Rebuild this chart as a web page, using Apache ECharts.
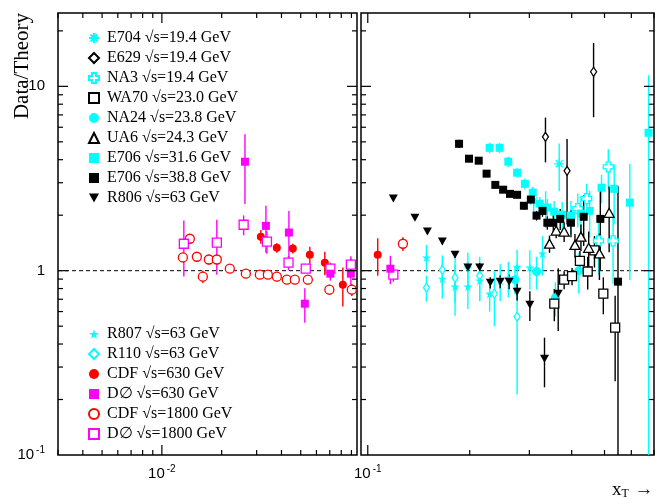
<!DOCTYPE html>
<html>
<head>
<meta charset="utf-8">
<script src="https://cdn.jsdelivr.net/npm/echarts@6/dist/echarts.min.js"></script>
<style>
  html, body { margin: 0; padding: 0; background: #fff; }
  #chart { width: 657px; height: 499px; }
</style>
</head>
<body>
<div id="chart"></div>
<script>
// each point: [x_T, Data/Theory, error]
const e704 = [[0.309, 2.39, 0.4], [0.335, 2.20, 0.5], [0.3675, 3.80, 1.1]];
const e629 = [[0.3347, 5.32, 1.45], [0.3876, 3.48, 1.7], [0.4642, 12.0, 5.2]];
const na3 = [[0.417, 2.17, 0.45], [0.443, 2.46, 0.5], [0.48, 1.45, 0.5], [0.513, 3.66, 0.9], [0.53, 1.45, 0.6]];
const wa70 = [[0.3554, 0.662, 0.13], [0.38, 0.894, 0.1], [0.401, 0.934, 0.1], [0.423, 1.13, 0.15],
  [0.446, 0.99, 0.2], [0.467, 1.29, 0.25], [0.496, 0.75, 0.17], [0.5375, 0.491, 0.24]];
const na24 = [[0.272, 0.894, 0.15], [0.315, 0.99, 0.2], [0.358, 0.714, 0.15], [0.42, 1.0, 0.25]];
const ua6 = [[0.344, 1.40, 0.15], [0.360, 1.65, 0.15], [0.380, 1.63, 0.2], [0.409, 1.38, 0.2],
  [0.426, 1.53, 0.25], [0.449, 1.33, 0.3], [0.483, 1.24, 0.35], [0.516, 2.06, 0.8]];
const e706low = [[0.229, 4.64, 0.3], [0.245, 4.64, 0.3], [0.26, 3.90, 0.25], [0.276, 3.40, 0.2],
  [0.291, 2.96, 0.2], [0.307, 2.65, 0.2], [0.322, 2.31, 0.2], [0.339, 2.20, 0.25], [0.355, 2.09, 0.3],
  [0.375, 2.01, 0.35], [0.398, 1.99, 0.4], [0.426, 2.04, 0.5], [0.452, 2.11, 0.6], [0.49, 2.82, 0.5],
  [0.534, 2.78, 1.0], [0.594, 2.34, 1.45], [0.6745, 5.6, 5.9]];
const e706high = [[0.186, 4.88, 0.25], [0.199, 4.05, 0.15], [0.2126, 3.95, 0.15], [0.2243, 3.36, 0.12],
  [0.238, 2.92, 0.12], [0.251, 2.75, 0.1], [0.263, 2.61, 0.1], [0.276, 2.58, 0.1], [0.289, 2.25, 0.1],
  [0.303, 2.43, 0.12], [0.315, 1.99, 0.12], [0.328, 2.11, 0.15], [0.339, 1.82, 0.15], [0.353, 1.82, 0.2],
  [0.370, 1.91, 0.25], [0.398, 1.82, 0.3], [0.434, 1.96, 0.6], [0.486, 1.91, 0.9], [0.548, 0.872, 2.0]];
const r806 = [[0.119, 2.46, 0.05], [0.1378, 1.94, 0.05], [0.150, 1.63, 0.05], [0.166, 1.44, 0.05],
  [0.181, 1.22, 0.05], [0.1975, 1.04, 0.05], [0.214, 1.04, 0.06], [0.230, 0.861, 0.06], [0.246, 0.872, 0.07],
  [0.2615, 0.872, 0.08], [0.276, 0.769, 0.08], [0.301, 0.654, 0.12], [0.3325, 0.333, 0.1], [0.365, 0.75, 0.28]];
const r807 = [[0.149, 1.18, 0.2], [0.166, 0.905, 0.2], [0.181, 0.819, 0.25], [0.1975, 0.819, 0.2],
  [0.214, 0.883, 0.2], [0.229, 0.75, 0.15], [0.246, 0.883, 0.2], [0.26, 0.916, 0.2], [0.276, 1.05, 0.25],
  [0.301, 1.04, 0.25], [0.328, 1.24, 0.3]];
const r110 = [[0.149, 0.809, 0.13], [0.166, 1.01, 0.2], [0.181, 0.916, 0.25], [0.1975, 1.05, 0.2],
  [0.214, 0.94, 0.25], [0.2365, 0.75, 0.25], [0.276, 0.563, 0.35]];
const cdf630 = [[0.03149, 1.53, 0.13], [0.03791, 1.33, 0.08], [0.04563, 1.32, 0.08], [0.05557, 1.22, 0.13],
  [0.06611, 1.105, 0.16], [0.08146, 0.839, 0.2], [0.107, 1.22, 0.28]];
const d0630 = [[0.0262, 3.9, 1.6], [0.0334, 1.75, 0.5], [0.0436, 1.61, 0.5], [0.05244, 0.662, 0.14],
  [0.0705, 0.963, 0.08], [0.0894, 0.963, 0.2], [0.1166, 1.025, 0.18]];
const cdf1800 = [[0.01276, 1.18, 0.07], [0.01383, 1.49, 0.08], [0.0150, 1.19, 0.07], [0.01608, 0.928, 0.07],
  [0.01724, 1.15, 0.07], [0.01891, 1.15, 0.07], [0.02198, 1.025, 0.05], [0.02647, 0.963, 0.05],
  [0.03112, 0.951, 0.04], [0.03416, 0.951, 0.04], [0.03791, 0.928, 0.04], [0.04257, 0.894, 0.04],
  [0.0467, 0.894, 0.04], [0.0543, 0.894, 0.05], [0.0697, 0.789, 0.05], [0.0904, 0.789, 0.06], [0.127, 1.40, 0.12]];
const d01800 = [[0.0129, 1.40, 0.47], [0.01891, 1.42, 0.47], [0.0258, 1.775, 0.22], [0.0338, 1.436, 0.2],
  [0.0434, 1.105, 0.1], [0.053, 1.025, 0.05], [0.0705, 1.025, 0.08], [0.0894, 1.078, 0.12], [0.119, 0.951, 0.08]];

const yTicks = [0.2, 0.3, 0.4, 0.5, 0.6, 0.7, 0.8, 0.9, 1, 2, 3, 4, 5, 6, 7, 8, 9, 10, 20];
const xTicksLow = [0.003, 0.004, 0.005, 0.006, 0.007, 0.008, 0.009, 0.01, 0.02, 0.03, 0.04, 0.05, 0.06, 0.07, 0.08, 0.09];
const xTicksHigh = [0.1, 0.2, 0.3, 0.4, 0.5, 0.6, 0.7];

const legendTop = ['E704 √s=19.4 GeV', 'E629 √s=19.4 GeV', 'NA3 √s=19.4 GeV', 'WA70 √s=23.0 GeV',
  'NA24 √s=23.8 GeV', 'UA6 √s=24.3 GeV', 'E706 √s=31.6 GeV', 'E706 √s=38.8 GeV', 'R806 √s=63 GeV'];
const legendBottom = ['R807 √s=63 GeV', 'R110 √s=63 GeV', 'CDF √s=630 GeV', 'D∅ √s=630 GeV',
  'CDF √s=1800 GeV', 'D∅ √s=1800 GeV'];

const CYAN = '#00ffff', BLACK = '#000000', RED = '#ff0000', MAGENTA = '#ff00ff';
const ASTERISK = 'path://M5,0L5,10M0,5L10,5M1.5,1.5L8.5,8.5M1.5,8.5L8.5,1.5';
const CROSS = 'path://M3,0L7,0L7,3L10,3L10,7L7,7L7,10L3,10L3,7L0,7L0,3L3,3Z';
const STAR = 'path://M50,0L61,35L98,35L68,57L79,91L50,70L21,91L32,57L2,35L39,35Z';
const DOWN = 'path://M0,0L10,0L5,9Z';
const SPLIT_X = 0.096; // boundary between the two panels

// drawing order: cyan first, black last
const sets = [
  { name: legendTop[0], data: e704, symbol: ASTERISK, size: 10, color: CYAN, open: false, line: true },
  { name: legendTop[2], data: na3, symbol: CROSS, size: 10, color: CYAN, open: true },
  { name: legendTop[4], data: na24, symbol: 'circle', size: 9, color: CYAN },
  { name: legendTop[6], data: e706low, symbol: 'rect', size: 8, color: CYAN },
  { name: legendBottom[0], data: r807, symbol: STAR, size: 9, color: CYAN },
  { name: legendBottom[1], data: r110, symbol: 'diamond', size: [6, 9], color: CYAN, open: true },
  { name: legendBottom[4], data: cdf1800, symbol: 'circle', size: 9, color: RED, open: true },
  { name: legendBottom[2], data: cdf630, symbol: 'circle', size: 8, color: RED },
  { name: legendBottom[5], data: d01800, symbol: 'rect', size: 9, color: MAGENTA, open: true },
  { name: legendBottom[3], data: d0630, symbol: 'rect', size: 8, color: MAGENTA },
  { name: legendTop[1], data: e629, symbol: 'diamond', size: [6, 9], color: BLACK, open: true },
  { name: legendTop[3], data: wa70, symbol: 'rect', size: 9, color: BLACK, open: true },
  { name: legendTop[5], data: ua6, symbol: 'triangle', size: [10, 9], color: BLACK, open: true },
  { name: legendTop[7], data: e706high, symbol: 'rect', size: 8, color: BLACK },
  { name: legendTop[8], data: r806, symbol: DOWN, size: [9, 8], color: BLACK }
];

function isDecade(v) {
  const l = Math.log10(v);
  return Math.abs(l - Math.round(l)) < 1e-6;
}

function powLabel(v) {
  if (!isDecade(v)) return '';
  const e = Math.round(Math.log10(v));
  if (e === 0) return '1';
  if (e === 1) return '10';
  return '10{sup|' + e + '}';
}

const labelRich = { sup: { fontSize: 10, fontFamily: 'Liberation Sans', color: '#000', padding: [0, 0, 9, 2] } };

function errBar(color) {
  return function (params, api) {
    const cs = params.coordSys;
    const x = api.value(0), y = api.value(1), e = api.value(2);
    const top = api.coord([x, y + e]);
    const lo = y - e;
    const bot = lo > 0 ? api.coord([x, lo])[1] : cs.y + cs.height;
    return {
      type: 'line',
      shape: { x1: top[0], y1: Math.max(top[1], cs.y), x2: top[0], y2: Math.min(bot, cs.y + cs.height) },
      style: { stroke: color, lineWidth: 1.4 }
    };
  };
}

function xTick(params, api) {
  const cs = params.coordSys;
  const v = api.value(0);
  const px = api.coord([v, 1])[0];
  const len = isDecade(v) ? 10 : 5;
  const st = { stroke: '#000', lineWidth: 1.2 };
  return {
    type: 'group', children: [
      { type: 'line', shape: { x1: px, y1: cs.y + cs.height, x2: px, y2: cs.y + cs.height - len }, style: st },
      { type: 'line', shape: { x1: px, y1: cs.y, x2: px, y2: cs.y + len }, style: st }
    ]
  };
}

function yTick(params, api) {
  const cs = params.coordSys;
  const py = api.coord([api.value(0), api.value(1)])[1];
  const len = isDecade(api.value(1)) ? 10 : 5;
  const st = { stroke: '#000', lineWidth: 1.2 };
  return {
    type: 'group', children: [
      { type: 'line', shape: { x1: cs.x, y1: py, x2: cs.x + len, y2: py }, style: st },
      { type: 'line', shape: { x1: cs.x + cs.width, y1: py, x2: cs.x + cs.width - len, y2: py }, style: st }
    ]
  };
}

function unityLine(params, api) {
  const cs = params.coordSys;
  const py = api.coord([api.value(0), 1])[1];
  return {
    type: 'line',
    shape: { x1: cs.x, y1: py, x2: cs.x + cs.width, y2: py },
    style: { stroke: '#000', lineWidth: 1, lineDash: [4, 3] }
  };
}

const series = [];
[[xTicksLow, 0.01], [xTicksHigh, 0.2]].forEach(function (g, gi) {
  series.push({ type: 'custom', xAxisIndex: gi, yAxisIndex: gi, z: 1, silent: true, clip: false,
    renderItem: unityLine, data: [[g[1], 1]] });
  series.push({ type: 'custom', xAxisIndex: gi, yAxisIndex: gi, z: 5, silent: true, clip: false,
    renderItem: xTick, data: g[0].map(v => [v, 1]) });
  series.push({ type: 'custom', xAxisIndex: gi, yAxisIndex: gi, z: 5, silent: true, clip: false,
    renderItem: yTick, data: yTicks.map(v => [g[1], v]) });
});

sets.forEach(function (s) {
  [0, 1].forEach(function (gi) {
    const pts = s.data.filter(p => (gi === 0) === (p[0] < SPLIT_X));
    if (!pts.length) return;
    series.push({ type: 'custom', xAxisIndex: gi, yAxisIndex: gi, z: 2, silent: true,
      renderItem: errBar(s.color), data: pts });
  });
});

sets.forEach(function (s) {
  [0, 1].forEach(function (gi) {
    const pts = s.data.filter(p => (gi === 0) === (p[0] < SPLIT_X));
    if (!pts.length) return;
    series.push({
      type: 'scatter', name: s.name, xAxisIndex: gi, yAxisIndex: gi, z: 3,
      symbol: s.symbol, symbolSize: s.size,
      itemStyle: {
        color: s.open ? '#ffffff' : s.color,
        borderColor: s.color,
        borderWidth: s.open || s.line ? 1.3 : 0,
        opacity: 1
      },
      emphasis: { disabled: true },
      data: pts.map(p => [p[0], p[1]])
    });
  });
});

const legendBase = {
  orient: 'vertical', left: 83, itemGap: 4, itemWidth: 10, itemHeight: 10,
  selectedMode: false,
  textStyle: { fontFamily: 'Liberation Serif', fontSize: 16, color: '#000', padding: [0, 0, 0, 3] }
};

const option = {
  animation: false,
  backgroundColor: '#ffffff',
  grid: [
    { left: 58, top: 13, width: 299, height: 442, show: true, borderColor: '#000', borderWidth: 1.5 },
    { left: 361, top: 13, width: 298, height: 442, show: true, borderColor: '#000', borderWidth: 1.5 }
  ],
  xAxis: [
    { type: 'log', gridIndex: 0, min: 0.003, max: 0.096,
      axisLine: { show: false }, axisTick: { show: false }, splitLine: { show: false },
      axisLabel: { formatter: powLabel, margin: 9, color: '#000', fontSize: 15, fontFamily: 'Liberation Sans', rich: labelRich } },
    { type: 'log', gridIndex: 1, min: 0.0955, max: 0.7,
      axisLine: { show: false }, axisTick: { show: false }, splitLine: { show: false },
      axisLabel: { formatter: powLabel, margin: 9, color: '#000', fontSize: 15, fontFamily: 'Liberation Sans', rich: labelRich } }
  ],
  yAxis: [
    { type: 'log', gridIndex: 0, min: 0.1, max: 25,
      axisLine: { show: false }, axisTick: { show: false }, splitLine: { show: false },
      axisLabel: { formatter: powLabel, margin: 13, color: '#000', fontSize: 15, fontFamily: 'Liberation Sans', rich: labelRich } },
    { type: 'log', gridIndex: 1, min: 0.1, max: 25,
      axisLine: { show: false }, axisTick: { show: false }, splitLine: { show: false },
      axisLabel: { show: false } }
  ],
  legend: [
    Object.assign({}, legendBase, { top: 25, data: legendTop }),
    Object.assign({}, legendBase, { top: 321, data: legendBottom })
  ],
  graphic: [
    { type: 'text', x: 22, y: 66, rotation: Math.PI / 2,
      style: { text: 'Data/Theory', font: '21px "Liberation Serif"', fill: '#000', align: 'center', verticalAlign: 'middle' } },
    { type: 'text', x: 612, y: 481,
      style: { text: 'x{sub|T} →', font: '19px "Liberation Serif"', fill: '#000',
        rich: { sub: { fontSize: 12, fontFamily: 'Liberation Serif', fill: '#000', padding: [7, 1, 0, 0] } } } }
  ],
  series: series
};

const chart = echarts.init(document.getElementById('chart'));
chart.setOption(option);
</script>
</body>
</html>
